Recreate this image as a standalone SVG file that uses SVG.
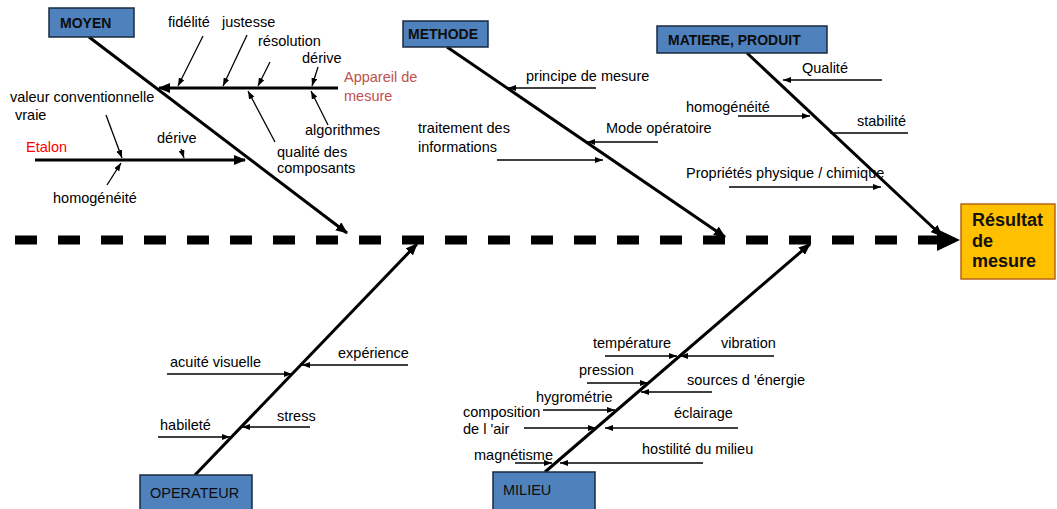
<svg xmlns="http://www.w3.org/2000/svg" width="1057" height="509" viewBox="0 0 1057 509">
<style>
.t{font-family:"Liberation Sans",Arial,sans-serif;font-size:14.5px;fill:#000}
.cat{fill:#4F81BD;stroke:#1A2A40;stroke-width:1.5}
.ct{font-family:"Liberation Sans",Arial,sans-serif;font-size:14px;font-weight:bold;fill:#0d0d0d}
.cn{font-family:"Liberation Sans",Arial,sans-serif;font-size:14.5px;fill:#0d0d0d}
.br{stroke:#000;stroke-width:3;fill:none}
.sub{stroke:#000;stroke-width:1.3;fill:none}
</style>
<defs>
<marker id="ab" markerUnits="userSpaceOnUse" markerWidth="12" markerHeight="10" refX="11" refY="5" orient="auto"><path d="M0,0 L12,5 L0,10 z" fill="#000"/></marker>
<marker id="as" markerUnits="userSpaceOnUse" markerWidth="8" markerHeight="6" refX="8" refY="3" orient="auto"><path d="M0,0 L8,3 L0,6 z" fill="#000"/></marker>
</defs>
<rect width="1057" height="509" fill="#fff"/>
<g id="connectors">
<line x1="15" y1="240" x2="938" y2="240" stroke="#000" stroke-width="9" stroke-dasharray="22 21"/>
<polygon points="937,229 960,240 937,251" fill="#000"/>
<line class="br" x1="89" y1="37" x2="347" y2="233" marker-end="url(#ab)"/>
<line class="br" x1="447" y1="47" x2="725" y2="237" marker-end="url(#ab)"/>
<line class="br" x1="747" y1="53" x2="942" y2="236" marker-end="url(#ab)"/>
<line class="br" x1="195" y1="475" x2="417" y2="244" marker-end="url(#ab)"/>
<line class="br" x1="545" y1="472" x2="810" y2="244" marker-end="url(#ab)"/>
<line class="br" x1="338" y1="88" x2="159" y2="88" marker-end="url(#ab)"/>
<line class="br" x1="35" y1="160" x2="245" y2="160" marker-end="url(#ab)"/>
<line class="sub" x1="203" y1="36" x2="178" y2="86" marker-end="url(#as)"/>
<line class="sub" x1="247" y1="35" x2="223" y2="86" marker-end="url(#as)"/>
<line class="sub" x1="270" y1="62" x2="258" y2="86" marker-end="url(#as)"/>
<line class="sub" x1="318" y1="67" x2="312" y2="86" marker-end="url(#as)"/>
<line class="sub" x1="328" y1="125" x2="311" y2="91" marker-end="url(#as)"/>
<line class="sub" x1="275" y1="142" x2="248" y2="91" marker-end="url(#as)"/>
<line class="sub" x1="106" y1="115" x2="122" y2="158" marker-end="url(#as)"/>
<line class="sub" x1="181" y1="149" x2="184" y2="158" marker-end="url(#as)"/>
<line class="sub" x1="107" y1="185" x2="121" y2="163" marker-end="url(#as)"/>
<line class="sub" x1="596" y1="88" x2="508" y2="88" marker-end="url(#as)"/>
<line class="sub" x1="658" y1="142" x2="587" y2="142" marker-end="url(#as)"/>
<line class="sub" x1="497" y1="160" x2="603" y2="160" marker-end="url(#as)"/>
<line class="sub" x1="882" y1="80" x2="783" y2="80" marker-end="url(#as)"/>
<line class="sub" x1="738" y1="116" x2="810" y2="116" marker-end="url(#as)"/>
<line class="sub" x1="908" y1="133" x2="830" y2="133"/>
<line class="sub" x1="729" y1="187" x2="881" y2="187" marker-end="url(#as)"/>
<line class="sub" x1="167" y1="374" x2="292" y2="374" marker-end="url(#as)"/>
<line class="sub" x1="408" y1="365" x2="302" y2="365" marker-end="url(#as)"/>
<line class="sub" x1="158" y1="437" x2="230" y2="437" marker-end="url(#as)"/>
<line class="sub" x1="310" y1="427" x2="242" y2="427" marker-end="url(#as)"/>
<line class="sub" x1="605" y1="356" x2="677" y2="356" marker-end="url(#as)"/>
<line class="sub" x1="774" y1="356" x2="680" y2="356" marker-end="url(#as)"/>
<line class="sub" x1="587" y1="383" x2="648" y2="383" marker-end="url(#as)"/>
<line class="sub" x1="712" y1="392" x2="641" y2="392" marker-end="url(#as)"/>
<line class="sub" x1="543" y1="410" x2="615" y2="410" marker-end="url(#as)"/>
<line class="sub" x1="524" y1="428" x2="596" y2="428" marker-end="url(#as)"/>
<line class="sub" x1="738" y1="428" x2="605" y2="428" marker-end="url(#as)"/>
<line class="sub" x1="515" y1="463" x2="552" y2="463" marker-end="url(#as)"/>
<line class="sub" x1="703" y1="463" x2="560" y2="463" marker-end="url(#as)"/>
</g>
<g id="moyen">
<rect class="cat" x="49" y="8" width="85" height="29"/>
<text class="ct" x="60" y="28">MOYEN</text>
<text class="t" x="168" y="27">fidélité</text>
<text class="t" x="222" y="27">justesse</text>
<text class="t" x="258" y="46">résolution</text>
<text class="t" x="302" y="63">dérive</text>
<text class="t" x="344" y="82" style="fill:#C0504D">Appareil de</text>
<text class="t" x="344" y="101" style="fill:#C0504D">mesure</text>
<text class="t" x="305" y="135">algorithmes</text>
<text class="t" x="277" y="157">qualité des</text>
<text class="t" x="277" y="173">composants</text>
<text class="t" x="10" y="102">valeur conventionnelle</text>
<text class="t" x="15" y="120">vraie</text>
<text class="t" x="26" y="152" style="fill:#FF0000">Etalon</text>
<text class="t" x="157" y="143">dérive</text>
<text class="t" x="53" y="203">homogénéité</text>
</g>
<g id="methode">
<rect class="cat" x="403" y="21" width="85" height="26"/>
<text class="ct" x="408" y="39">METHODE</text>
<text class="t" x="526" y="81">principe de mesure</text>
<text class="t" x="606" y="133">Mode opératoire</text>
<text class="t" x="418" y="133">traitement des</text>
<text class="t" x="418" y="152">informations</text>
</g>
<g id="matiere">
<rect class="cat" x="657" y="26" width="170" height="27"/>
<text class="ct" x="668" y="45">MATIERE, PRODUIT</text>
<text class="t" x="802" y="73">Qualité</text>
<text class="t" x="686" y="112">homogénéité</text>
<text class="t" x="857" y="126">stabilité</text>
<text class="t" x="686" y="178">Propriétés physique / chimique</text>
</g>
<g id="operateur">
<rect class="cat" x="140" y="475" width="112" height="40"/>
<text class="cn" x="150" y="498">OPERATEUR</text>
<text class="t" x="170" y="367">acuité visuelle</text>
<text class="t" x="338" y="358">expérience</text>
<text class="t" x="160" y="430">habileté</text>
<text class="t" x="277" y="421">stress</text>
</g>
<g id="milieu">
<rect class="cat" x="493" y="472" width="102" height="40"/>
<text class="cn" x="503" y="495">MILIEU</text>
<text class="t" x="593" y="348">température</text>
<text class="t" x="721" y="348">vibration</text>
<text class="t" x="579" y="375">pression</text>
<text class="t" x="687" y="385">sources d 'énergie</text>
<text class="t" x="536" y="402">hygrométrie</text>
<text class="t" x="463" y="417">composition</text>
<text class="t" x="463" y="434">de l 'air</text>
<text class="t" x="674" y="418">éclairage</text>
<text class="t" x="474" y="460">magnétisme</text>
<text class="t" x="642" y="454">hostilité du milieu</text>
</g>
<g id="resultat">
<rect x="961" y="204" width="94" height="75" fill="#FFC000" stroke="#B5651D" stroke-width="1.5"/>
<text x="972" y="226" font-family="Liberation Sans, Arial, sans-serif" font-size="18" font-weight="bold" fill="#111">Résultat</text>
<text x="972" y="247" font-family="Liberation Sans, Arial, sans-serif" font-size="18" font-weight="bold" fill="#111">de</text>
<text x="972" y="267" font-family="Liberation Sans, Arial, sans-serif" font-size="18" font-weight="bold" fill="#111">mesure</text>
</g>
</svg>
